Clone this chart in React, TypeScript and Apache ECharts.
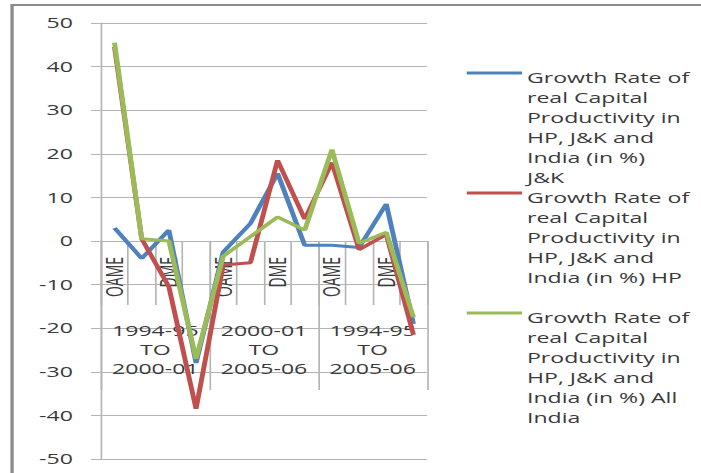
import { useEffect, useRef } from "react";
import * as echarts from "echarts";

// The chart is laid out on a narrow canvas and widened horizontally by CSS.
const FULL_W = 701;
const INNER_W = 425;
const STRETCH = FULL_W / INNER_W;
const H = 473;

// Inner category level (every other label is shown) and outer period level.
const measures = [
  "OAME", "OAME", "DME", "DME",
  "OAME", "OAME", "DME", "DME",
  "OAME", "OAME", "DME", "DME",
];
const periods = [
  "1994-95\nTO\n2000-01",
  "2000-01\nTO\n2005-06",
  "1994-95\nTO\n2005-06",
];

const jkValues = [3, -4, 2.5, -28, -2.5, 4, 15.5, -1, -1, -1.5, 8.5, -19];
const hpValues = [44.5, 0.5, -10.5, -38.5, -5.5, -5, 18.5, 5, 18, -2, 1.5, -21.5];
const indiaValues = [45.5, 0.5, 0, -27, -3.5, 1, 5.5, 2.5, 21, -0.5, 2, -17.5];

// Value axis range.
const Y_MIN = -50;
const Y_MAX = 50;
const Y_STEP = 10;

// Legend captions, wrapped line by line.
const jkCaption = ["Growth Rate of", "real Capital", "Productivity in", "HP, J&K and", "India (in %)", "J&K"];
const hpCaption = ["Growth Rate of", "real Capital", "Productivity in", "HP, J&K and", "India (in %) HP"];
const indiaCaption = ["Growth Rate of", "real Capital", "Productivity in", "HP, J&K and", "India (in %) All", "India"];

const FONT = '"Open Sans", sans-serif';
const TEXT = "#3a3a3a";
const GRID = "#b4b4b4";

const GRID_TOP = 23;
const GRID_BOTTOM = 14;
const GRID_LEFT = 61.2;
const GRID_RIGHT = 166.1;

const seriesDefs = [
  { caption: jkCaption, values: jkValues, color: "#4F81BD" },
  { caption: hpCaption, values: hpValues, color: "#C0504D" },
  { caption: indiaCaption, values: indiaValues, color: "#9BBB59" },
];

export default function App() {
  const ref = useRef<HTMLDivElement>(null);

  useEffect(() => {
    const chart = echarts.init(ref.current!, undefined, { renderer: "svg" });

    // The category axes cross the value axis at zero: lift them from the
    // bottom edge of the grid by the share of the range lying below zero.
    const plotHeight = H - GRID_TOP - GRID_BOTTOM;
    const zeroLift = -plotHeight * (0 - Y_MIN) / (Y_MAX - Y_MIN);

    const legendGraphics: any[] = [];
    seriesDefs.forEach((s, i) => {
      const top = 68 + i * 120;
      legendGraphics.push({
        type: "line",
        shape: { x1: 283, y1: top + 5, x2: 316.5, y2: top + 5 },
        style: { stroke: s.color, lineWidth: 3 },
      });
      legendGraphics.push({
        type: "text",
        x: 319.5,
        y: top,
        style: {
          text: s.caption.join("\n"),
          fontFamily: FONT,
          fontSize: 14,
          lineHeight: 20,
          fill: TEXT,
          verticalAlign: "top",
          align: "left",
        },
      });
    });

    chart.setOption({
      animation: false,
      backgroundColor: "#ffffff",
      textStyle: { fontFamily: FONT },
      grid: {
        left: GRID_LEFT,
        right: GRID_RIGHT,
        top: GRID_TOP,
        bottom: GRID_BOTTOM,
        containLabel: false,
        outerBoundsMode: "none",
      },
      xAxis: [
        {
          type: "category",
          data: measures,
          position: "bottom",
          offset: zeroLift,
          boundaryGap: true,
          axisLine: { show: true, onZero: false, lineStyle: { color: GRID, width: 1 } },
          axisTick: { show: true, interval: 0, length: 64, lineStyle: { color: GRID, width: 1 } },
          axisLabel: {
            interval: 1,
            rotate: 90,
            margin: 16,
            fontSize: 14,
            fontFamily: FONT,
            color: TEXT,
          },
          splitLine: { show: false },
        },
        {
          type: "category",
          data: periods,
          position: "bottom",
          offset: zeroLift,
          boundaryGap: true,
          axisLine: { show: false, onZero: false },
          axisTick: { show: true, interval: 0, length: 149, lineStyle: { color: GRID, width: 1 } },
          axisLabel: {
            interval: 0,
            margin: 80,
            fontSize: 14,
            lineHeight: 19,
            fontFamily: FONT,
            color: TEXT,
            align: "center",
          },
          splitLine: { show: false },
        },
      ],
      yAxis: {
        type: "value",
        min: Y_MIN,
        max: Y_MAX,
        interval: Y_STEP,
        axisLine: { show: true, lineStyle: { color: GRID, width: 1 } },
        axisTick: { show: true, length: 6, lineStyle: { color: GRID } },
        axisLabel: { margin: 17, fontSize: 14, fontFamily: FONT, color: TEXT },
        splitLine: { show: true, lineStyle: { color: GRID, width: 1 } },
      },
      series: seriesDefs.map((s) => ({
        name: s.caption.join(" "),
        type: "line",
        xAxisIndex: 0,
        yAxisIndex: 0,
        data: s.values,
        symbol: "none",
        lineStyle: { color: s.color, width: 3 },
        itemStyle: { color: s.color },
      })),
      graphic: [
        {
          type: "rect",
          shape: { x: 7.3, y: 5, width: 600, height: 600 },
          style: { fill: "none", stroke: "#8c8c8c", lineWidth: 2 },
          silent: true,
        },
        ...legendGraphics,
      ],
    });

    return () => chart.dispose();
  }, []);

  return (
    <div
      style={{
        position: "fixed",
        left: 0,
        top: 0,
        width: FULL_W,
        height: H,
        overflow: "hidden",
        background: "#ffffff",
      }}
    >
      <div
        ref={ref}
        style={{
          width: INNER_W,
          height: H,
          transform: `scaleX(${STRETCH})`,
          transformOrigin: "0 0",
        }}
      />
    </div>
  );
}
